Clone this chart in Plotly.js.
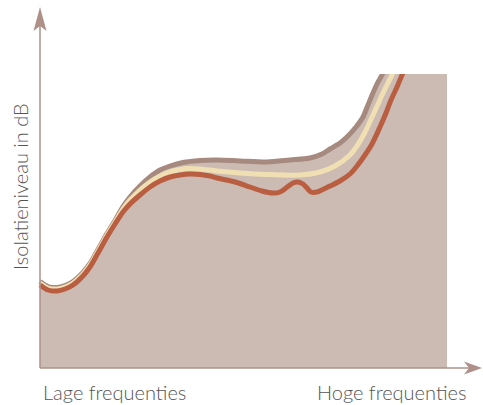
<!DOCTYPE html>
<html>
<head>
<meta charset="utf-8">
<script src="https://cdn.plot.ly/plotly-3.0.1.min.js"></script>
<style>html,body{margin:0;padding:0;background:#fff;}#chart{width:483px;height:405px;}</style>
</head>
<body>
<div id="chart"></div>
<script>
// Frequency position (arbitrary units) and insulation level (arbitrary units)
var redX   = [0,8,17,25,33,42,50,58,67,75,83,90,100,110,120,130,140,150,160,170,177,195,210,222,233,240,246,253,258,263,267,271,277,290,300,310,317,325,332,340,346,351,357,362,364];
var redY   = [83,78,77,79,83,91,101,115,131,144,156,164,173,181,187,191,193,194,193.5,192,190,186,181,177,175,176,180,185,186,184,180,176,176,182,187,194,202,213,224,241,255,268,281,293,298];

var creamX = [0,8,17,25,33,42,50,58,67,75,83,90,100,110,120,130,140,150,160,177,200,227,260,280,295,310,317,323,328,333,338,343,348,352,354];
var creamY = [85,80,79,81,85,93,103,117,133,146,159,168,178,186,192,196,198.5,199.5,199,197,195,193.5,193,196,202,213,222,232,242,253,264,275,285,293,298];

var greyX  = [0,8,17,25,33,42,50,58,67,75,83,90,100,110,120,130,143,160,177,200,227,250,270,282,290,300,308,316,323,328,333,337,342,344];
var greyY  = [86.5,81.5,80.5,82.5,86.5,94.5,104.5,118.5,134.5,147.5,161.5,171,182,191,198,202,205.5,207.5,208,207,206,208,210,214,219,225,232,241,251,263,275,284,293,298];

var areaRight = 407;   // right edge of shaded area
var areaTop = 294;     // top level of shaded area

var xLabels = ["Lage frequenties", "Hoge frequenties"];
var yTitle = "Isolatieniveau in dB";

// shaded region: under the grey curve, capped at the top level
var fillX = [], fillY = [];
for (var i = 0; i < greyX.length; i++) {
  if (greyY[i] <= areaTop) { fillX.push(greyX[i]); fillY.push(greyY[i]); }
}
fillX.push(fillX[fillX.length-1], areaRight, areaRight, 0);
fillY.push(areaTop, areaTop, 0, 0);

var traces = [
  {x: fillX, y: fillY, type: 'scatter', mode: 'lines', fill: 'toself',
   fillcolor: '#cbbbb3', line: {width: 0, color: '#cbbbb3'}, yaxis: 'y2', hoverinfo: 'skip'},
  {x: greyX, y: greyY, type: 'scatter', mode: 'lines', yaxis: 'y2',
   line: {color: '#a68a7f', width: 5, shape: 'spline', smoothing: 0.8}, hoverinfo: 'skip'},
  {x: creamX, y: creamY, type: 'scatter', mode: 'lines', yaxis: 'y2',
   line: {color: '#f1dfb4', width: 5, shape: 'spline', smoothing: 0.8}, hoverinfo: 'skip'},
  {x: redX, y: redY, type: 'scatter', mode: 'lines', yaxis: 'y2',
   line: {color: '#b95e41', width: 5, shape: 'spline', smoothing: 0.8}, hoverinfo: 'skip'}
];

var axisColor = '#ae9088';
var textFont = {family: 'Lato, "Open Sans", sans-serif', size: 20, color: '#555555', weight: 300};

var layout = {
  width: 483, height: 405,
  margin: {l: 0, r: 0, t: 0, b: 0},
  paper_bgcolor: '#ffffff', plot_bgcolor: '#ffffff',
  showlegend: false,
  xaxis: {range: [-40, 443], visible: false, fixedrange: true},
  yaxis: {range: [-37, 368], visible: false, fixedrange: true, domain: [0, 1]},
  yaxis2: {range: [-37, 294], visible: false, fixedrange: true, domain: [0, 331/405], anchor: 'x'},
  shapes: [
    {type: 'line', xref: 'x', yref: 'y', x0: 0, y0: 0, x1: 0, y1: 344, line: {color: axisColor, width: 1.5}},
    {type: 'path', xref: 'x', yref: 'y', path: 'M0,361 L6.5,337 L0,342 L-6.5,337 Z', fillcolor: axisColor, line: {width: 0}},
    {type: 'line', xref: 'x', yref: 'y', x0: 0, y0: 0, x1: 430, y1: 0, line: {color: axisColor, width: 1.5}},
    {type: 'path', xref: 'x', yref: 'y', path: 'M442,0 L424,6.5 L429,0 L424,-6.5 Z', fillcolor: axisColor, line: {width: 0}}
  ],
  annotations: [
    {text: xLabels[0], xref: 'x', yref: 'y', x: 1, y: -24, xanchor: 'left', yanchor: 'middle', showarrow: false, font: textFont},
    {text: xLabels[1], xref: 'x', yref: 'y', x: 428, y: -24, xanchor: 'right', yanchor: 'middle', showarrow: false, font: textFont},
    {text: yTitle, xref: 'x', yref: 'y', x: -20, y: 181, textangle: -90, xanchor: 'center', yanchor: 'middle', showarrow: false, font: textFont}
  ]
};

Plotly.newPlot('chart', traces, layout, {displayModeBar: false, staticPlot: true});
</script>
</body>
</html>
